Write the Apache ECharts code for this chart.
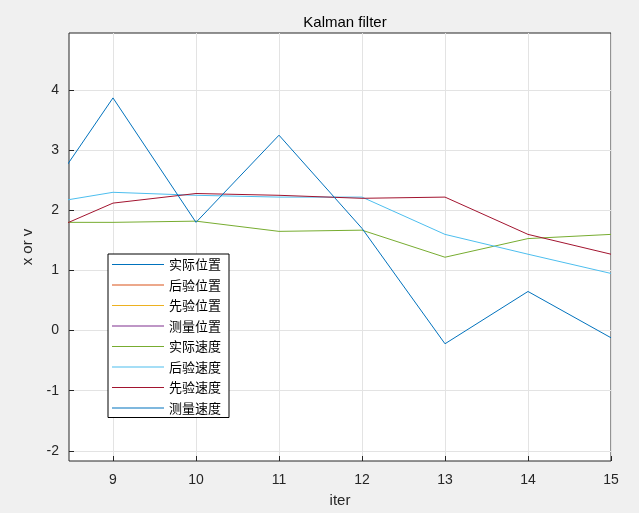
<!DOCTYPE html><html><head><meta charset="utf-8"><script src="https://cdn.jsdelivr.net/npm/echarts@6/dist/echarts.min.js"></script></head><body style="margin:0;background:#f0f0f0"><div id="c" style="width:639px;height:513px"></div><script>
const iters=[8,9,10,11,12,13,14,15];
const names=['实际位置','后验位置','先验位置','测量位置','实际速度','后验速度','先验速度','测量速度'];
const colors=['#0072BD','#D95319','#EDB120','#7E2F8E','#77AC30','#4DBEEE','#A2142F','#0072BD'];
const actualVel=[1.8,1.8,1.82,1.65,1.67,1.22,1.53,1.6];
const postVel=[2.07,2.3,2.25,2.22,2.22,1.6,1.27,0.95];
const priorVel=[1.52,2.12,2.28,2.25,2.2,2.22,1.6,1.27];
const measVel=[1.85,3.87,1.8,3.25,1.7,-0.22,0.65,-0.12];
const xTicks=[9,10,11,12,13,14,15];
const yTicks=[-2,-1,0,1,2,3,4];
const vals=[[],[],[],[],actualVel,postVel,priorVel,measVel];
const series=names.map((n,i)=>({name:n,type:'line',symbol:'none',clip:true,color:colors[i],data:vals[i].map((v,j)=>[iters[j],v]),lineStyle:{width:1,color:colors[i]},itemStyle:{color:colors[i]}}));
const ch=echarts.init(document.getElementById('c'));
const ax={fontFamily:'Liberation Sans, Arial',fontSize:14,color:'#262626'};
ch.setOption({backgroundColor:'#f0f0f0',animation:false,color:colors,
title:{text:'Kalman filter',left:340,top:10,textAlign:'center',textStyle:{fontFamily:'Liberation Sans',fontSize:15,fontWeight:'normal',color:'#000'}},
grid:{left:69,right:28,top:33,bottom:52,show:true,backgroundColor:'#fff',borderColor:'#262626',borderWidth:1},
legend:{orient:'vertical',left:108,top:254,width:124,backgroundColor:'#fff',borderColor:'#000',borderWidth:1,padding:[4,8,3,4],itemGap:7.5,itemWidth:52,itemHeight:10,
data:names.map((n,i)=>({name:n,icon:'path://M0,5L52,5L52,6L0,6Z',itemStyle:{color:colors[i]}})),textStyle:{fontFamily:'Noto Sans CJK SC',fontSize:13,color:'#000'}},
xAxis:{type:'value',min:8.47,max:15,name:'iter',nameLocation:'middle',nameGap:32,nameTextStyle:{fontFamily:'Liberation Sans',fontSize:15,color:'#262626'},
axisLine:{show:false,onZero:false},axisTick:{inside:true,customValues:xTicks,lineStyle:{color:'#262626'}},axisLabel:{customValues:xTicks,...ax,margin:12},splitLine:{show:true,lineStyle:{color:'#e3e3e3'}}},
yAxis:{type:'value',min:-2.17,max:4.95,name:'x or v',nameLocation:'middle',nameGap:34,nameTextStyle:{fontFamily:'Liberation Sans',fontSize:15,color:'#262626'},
axisLine:{show:false,onZero:false},axisTick:{inside:true,customValues:yTicks,lineStyle:{color:'#262626'}},axisLabel:{customValues:yTicks,...ax,margin:10},splitLine:{show:true,lineStyle:{color:'#e3e3e3'}}},
series});
</script></body></html>
